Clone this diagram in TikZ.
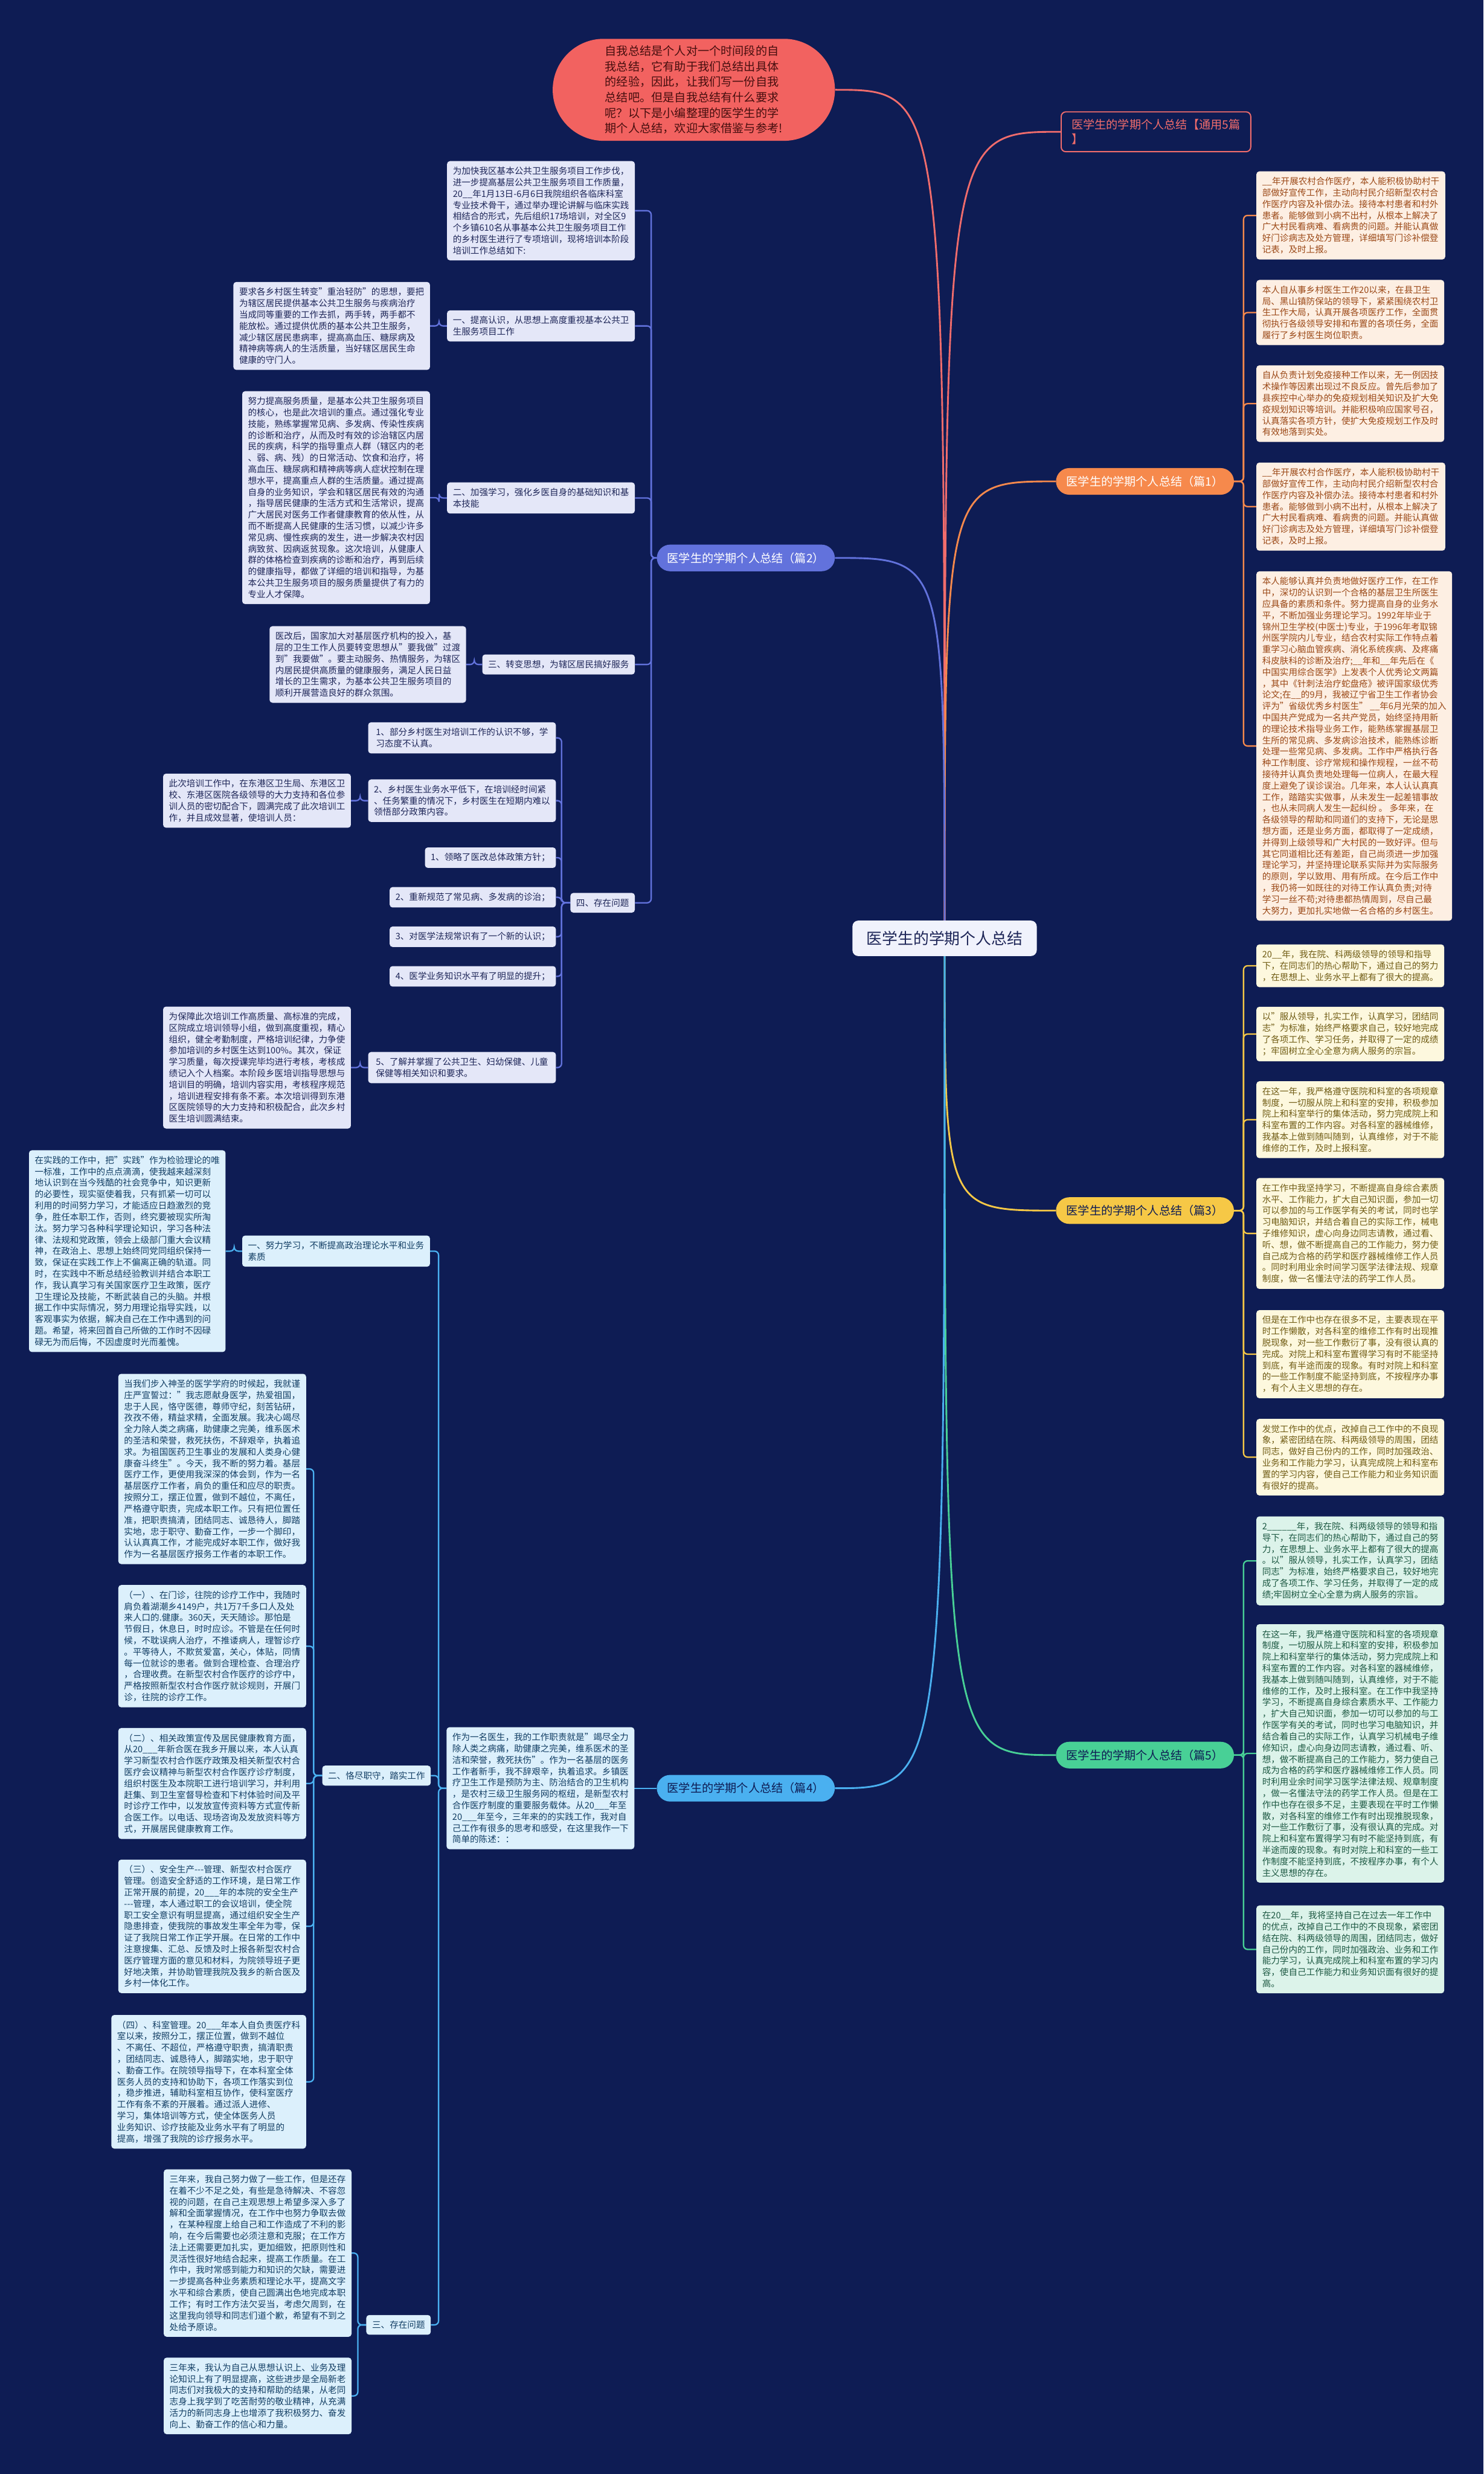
\documentclass[tikz,border=0pt]{standalone}
\usepackage{fontspec}
\setmainfont{Noto Sans CJK SC}
\usetikzlibrary{positioning}
\definecolor{bgc}{RGB}{14,28,84}
\definecolor{bubc}{RGB}{242,98,96}
\definecolor{bubt}{RGB}{70,14,14}
\definecolor{redl}{RGB}{240,108,108}
\definecolor{org}{RGB}{246,137,76}
\definecolor{p1bg}{RGB}{253,239,227}
\definecolor{p1tx}{RGB}{155,72,22}
\definecolor{yel}{RGB}{246,200,70}
\definecolor{p3bg}{RGB}{253,248,222}
\definecolor{p3tx}{RGB}{112,92,20}
\definecolor{grn}{RGB}{72,208,150}
\definecolor{p5bg}{RGB}{220,243,234}
\definecolor{p5tx}{RGB}{28,88,66}
\definecolor{blu}{RGB}{98,114,220}
\definecolor{p2bg}{RGB}{228,231,248}
\definecolor{p2tx}{RGB}{30,38,88}
\definecolor{sky}{RGB}{74,176,240}
\definecolor{p4bg}{RGB}{220,240,252}
\definecolor{p4tx}{RGB}{18,62,100}
\definecolor{rootbg}{RGB}{240,242,252}
\pgfdeclarelayer{bg}
\pgfsetlayers{bg,main}
\tikzset{
  box/.style={rounded corners=5pt, inner xsep=10pt, inner ysep=10pt, align=left, font=\fontsize{15.2}{19.6}\selectfont},
  wbox/.style={box, minimum width=324pt},
  bA/.style={wbox, fill=p1bg, text=p1tx, anchor=north west},
  bC/.style={wbox, fill=p3bg, text=p3tx, anchor=north west},
  bE/.style={wbox, fill=p5bg, text=p5tx, anchor=north west},
  bB/.style={wbox, fill=p2bg, text=p2tx, anchor=east},
  sB/.style={box, fill=p2bg, text=p2tx, anchor=east},
  bD/.style={wbox, fill=p4bg, text=p4tx, anchor=east},
  sD/.style={box, fill=p4bg, text=p4tx, anchor=east},
  lab/.style={rounded corners=23pt, inner xsep=18pt, inner ysep=12pt, minimum height=46pt, align=center, font=\fontsize{20}{26}\selectfont},
  rootn/.style={fill=rootbg, text=p2tx, rounded corners=10pt, inner xsep=24pt, inner ysep=18pt, font=\fontsize{27}{32}\selectfont},
  bub/.style={fill=bubc, text=bubt, rounded corners=88pt, minimum width=487pt, minimum height=176pt, align=left, font=\fontsize{20}{26.7}\selectfont},
  cn/.style={line width=2.4pt, rounded corners=7pt},
  rc/.style={line width=3pt},
}
\begin{document}
\begin{tikzpicture}[x=2.7234pt,y=-2.7234pt]
\useasboundingbox (0,0) rectangle (940,1567.5);
\begin{pgfonlayer}{bg}
\fill[bgc] (0,0) rectangle (940,1567.5);
\end{pgfonlayer}

% root and intro bubble
\node[rootn] (root) at (598.5,594.5) {医学生的学期个人总结};
\node[bub] (bubble) at (439.6,56.9) {自我总结是个人对一个时间段的自\\我总结，它有助于我们总结出具体\\的经验，因此，让我们写一份自我\\总结吧。但是自我总结有什么要求\\呢？以下是小编整理的医学生的学\\期个人总结，欢迎大家借鉴与参考!};

% main labels
\node[lab, draw=redl, line width=2pt, fill=bgc, text=redl, anchor=west, align=left, rounded corners=8pt] (p0) at (672,83.5) {医学生的学期个人总结【通用5篇\\】};
\node[lab, fill=org, text=white, anchor=west] (p1) at (669,305) {医学生的学期个人总结（篇1）};
\node[lab, fill=yel, text=bgc, anchor=west] (p3) at (669,767) {医学生的学期个人总结（篇3）};
\node[lab, fill=grn, text=bgc, anchor=west] (p5) at (669,1112) {医学生的学期个人总结（篇5）};
\node[lab, fill=blu, text=white, anchor=east] (p2) at (529,353.5) {医学生的学期个人总结（篇2）};
\node[lab, fill=sky, text=bgc, anchor=east] (p4) at (529,1133) {医学生的学期个人总结（篇4）};

% ---------- 篇1 ----------
\node[bA] (a1) at (796,108.5) {\_\_年开展农村合作医疗，本人能积极协助村干\\部做好宣传工作，主动向村民介绍新型农村合\\作医疗内容及补偿办法。接待本村患者和村外\\患者。能够做到小病不出村，从根本上解决了\\广大村民看病难、看病贵的问题。并能认真做\\好门诊病志及处方管理，详细填写门诊补偿登\\记表，及时上报。};
\node[bA] (a2) at (796,177.3) {本人自从事乡村医生工作20以来，在县卫生\\局、黑山镇防保站的领导下，紧紧围绕农村卫\\生工作大局，认真开展各项医疗工作，全面贯\\彻执行各级领导安排和布置的各项任务，全面\\履行了乡村医生岗位职责。};
\node[bA] (a3) at (796,231.4) {自从负责计划免疫接种工作以来，无一例因技\\术操作等因素出现过不良反应。曾先后参加了\\县疾控中心举办的免疫规划相关知识及扩大免\\疫规划知识等培训。并能积极响应国家号召，\\认真落实各项方针，使扩大免疫规划工作及时\\有效地落到实处。};
\node[bA] (a4) at (796,293) {\_\_年开展农村合作医疗，本人能积极协助村干\\部做好宣传工作，主动向村民介绍新型农村合\\作医疗内容及补偿办法。接待本村患者和村外\\患者。能够做到小病不出村，从根本上解决了\\广大村民看病难、看病贵的问题。并能认真做\\好门诊病志及处方管理，详细填写门诊补偿登\\记表，及时上报。};
\node[bA] (a5) at (796,361.9) {本人能够认真并负责地做好医疗工作，在工作\\中，深切的认识到一个合格的基层卫生所医生\\应具备的素质和条件。努力提高自身的业务水\\平，不断加强业务理论学习。1992年毕业于\\锦州卫生学校(中医士)专业，于1996年考取锦\\州医学院内儿专业，结合农村实际工作特点着\\重学习心脑血管疾病、消化系统疾病、及疼痛\\科皮肤科的诊断及治疗;\_\_年和\_\_年先后在《\\中国实用综合医学》上发表个人优秀论文两篇\\，其中《针刺法治疗蛇盘疮》被评国家级优秀\\论文;在\_\_的9月，我被辽宁省卫生工作者协会\\评为"省级优秀乡村医生" \_\_年6月光荣的加入\\中国共产党成为一名共产党员，始终坚持用新\\的理论技术指导业务工作，能熟练掌握基层卫\\生所的常见病、多发病诊治技术，能熟练诊断\\处理一些常见病、多发病。工作中严格执行各\\种工作制度、诊疗常规和操作规程，一丝不苟\\接待并认真负责地处理每一位病人，在最大程\\度上避免了误诊误治。几年来，本人认认真真\\工作，踏踏实实做事，从未发生一起差错事故\\，也从未同病人发生一起纠纷 。 多年来，在\\各级领导的帮助和同道们的支持下，无论是思\\想方面，还是业务方面，都取得了一定成绩，\\并得到上级领导和广大村民的一致好评。但与\\其它同道相比还有差距，自己尚须进一步加强\\理论学习，并坚持理论联系实际并为实际服务\\的原则，学以致用、用有所成。在今后工作中\\，我仍将一如既往的对待工作认真负责;对待\\学习一丝不苟;对待患都热情周到，尽自己最\\大努力，更加扎实地做一名合格的乡村医生。};

% ---------- 篇3 ----------
\node[bC] (c1) at (796,598.3) {20\_\_年，我在院、科两级领导的领导和指导\\下，在同志们的热心帮助下，通过自己的努力\\，在思想上、业务水平上都有了很大的提高。};
\node[bC] (c2) at (796,637.8) {以"服从领导，扎实工作，认真学习，团结同\\志"为标准，始终严格要求自己，较好地完成\\了各项工作、学习任务，并取得了一定的成绩\\；牢固树立全心全意为病人服务的宗旨。};
\node[bC] (c3) at (796,685) {在这一年，我严格遵守医院和科室的各项规章\\制度，一切服从院上和科室的安排，积极参加\\院上和科室举行的集体活动，努力完成院上和\\科室布置的工作内容。对各科室的器械维修，\\我基本上做到随叫随到，认真维修，对于不能\\维修的工作，及时上报科室。};
\node[bC] (c4) at (796,746.3) {在工作中我坚持学习，不断提高自身综合素质\\水平、工作能力，扩大自己知识面，参加一切\\可以参加的与工作医学有关的考试，同时也学\\习电脑知识，并结合着自己的实际工作，械电\\子维修知识，虚心向身边同志请教，通过看、\\听、想，做不断提高自己的工作能力，努力使\\自己成为合格的药学和医疗器械维修工作人员\\。同时利用业余时间学习医学法律法规、规章\\制度，做一名懂法守法的药学工作人员。};
\node[bC] (c5) at (796,830) {但是在工作中也存在很多不足，主要表现在平\\时工作懒散，对各科室的维修工作有时出现推\\脱现象，对一些工作敷衍了事，没有很认真的\\完成。对院上和科室布置得学习有时不能坚持\\到底，有半途而废的现象。有时对院上和科室\\的一些工作制度不能坚持到底，不按程序办事\\，有个人主义思想的存在。};
\node[bC] (c6) at (796,898.9) {发觉工作中的优点，改掉自己工作中的不良现\\象，紧密团结在院、科两级领导的周围，团结\\同志，做好自己份内的工作，同时加强政治、\\业务和工作能力学习，认真完成院上和科室布\\置的学习内容，使自己工作能力和业务知识面\\有很好的提高。};

% ---------- 篇5 ----------
\node[bE] (e1) at (796,960.7) {2\_\_\_\_\_\_年，我在院、科两级领导的领导和指\\导下，在同志们的热心帮助下，通过自己的努\\力，在思想上、业务水平上都有了很大的提高\\。以"服从领导，扎实工作，认真学习，团结\\同志"为标准，始终严格要求自己，较好地完\\成了各项工作、学习任务，并取得了一定的成\\绩;牢固树立全心全意为病人服务的宗旨。};
\node[bE] (e2) at (796,1029) {在这一年，我严格遵守医院和科室的各项规章\\制度，一切服从院上和科室的安排，积极参加\\院上和科室举行的集体活动，努力完成院上和\\科室布置的工作内容。对各科室的器械维修，\\我基本上做到随叫随到，认真维修，对于不能\\维修的工作，及时上报科室。在工作中我坚持\\学习，不断提高自身综合素质水平、工作能力\\，扩大自己知识面，参加一切可以参加的与工\\作医学有关的考试，同时也学习电脑知识，并\\结合着自己的实际工作，认真学习机械电子维\\修知识，虚心向身边同志请教，通过看、听、\\想，做不断提高自己的工作能力，努力使自己\\成为合格的药学和医疗器械维修工作人员。同\\时利用业余时间学习医学法律法规、规章制度\\，做一名懂法守法的药学工作人员。但是在工\\作中也存在很多不足，主要表现在平时工作懒\\散，对各科室的维修工作有时出现推脱现象，\\对一些工作敷衍了事，没有很认真的完成。对\\院上和科室布置得学习有时不能坚持到底，有\\半途而废的现象。有时对院上和科室的一些工\\作制度不能坚持到底，不按程序办事，有个人\\主义思想的存在。};
\node[bE] (e3) at (796,1207.2) {在20\_\_年，我将坚持自己在过去一年工作中\\的优点，改掉自己工作中的不良现象，紧密团\\结在院、科两级领导的周围，团结同志，做好\\自己份内的工作，同时加强政治、业务和工作\\能力学习，认真完成院上和科室布置的学习内\\容，使自己工作能力和业务知识面有很好的提\\高。};

% ---------- 篇2 ----------
\node[wbox, fill=p2bg, text=p2tx, anchor=north east] (b0) at (402.3,102) {为加快我区基本公共卫生服务项目工作步伐，\\进一步提高基层公共卫生服务项目工作质量，\\20\_\_年1月13日-6月6日我院组织各临床科室\\专业技术骨干，通过举办理论讲解与临床实践\\相结合的形式，先后组织17场培训，对全区9\\个乡镇610名从事基本公共卫生服务项目工作\\的乡村医生进行了专项培训，现将培训本阶段\\培训工作总结如下:};
\node[sB] (s1) at (402.3,206.5) {一、提高认识，从思想上高度重视基本公共卫\\生服务项目工作};
\node[bB] (s1b) at (272.5,206.5) {要求各乡村医生转变"重治轻防"的思想，要把\\为辖区居民提供基本公共卫生服务与疾病治疗\\当成同等重要的工作去抓，两手转，两手都不\\能放松。通过提供优质的基本公共卫生服务，\\减少辖区居民患病率，提高高血压、糖尿病及\\精神病等病人的生活质量，当好辖区居民生命\\健康的守门人。};
\node[sB] (s2) at (402.3,315.5) {二、加强学习，强化乡医自身的基础知识和基\\本技能};
\node[bB] (s2b) at (272.5,315.3) {努力提高服务质量，是基本公共卫生服务项目\\的核心，也是此次培训的重点。通过强化专业\\技能，熟练掌握常见病、多发病、传染性疾病\\的诊断和治疗，从而及时有效的诊治辖区内居\\民的疾病，科学的指导重点人群（辖区内的老\\、弱、病、残）的日常活动、饮食和治疗，将\\高血压、糖尿病和精神病等病人症状控制在理\\想水平，提高重点人群的生活质量。通过提高\\自身的业务知识，学会和辖区居民有效的沟通\\，指导居民健康的生活方式和生活常识，提高\\广大居民对医务工作者健康教育的依从性，从\\而不断提高人民健康的生活习惯，以减少许多\\常见病、慢性疾病的发生，进一步解决农村因\\病致贫、因病返贫现象。这次培训，从健康人\\群的体格检查到疾病的诊断和治疗，再到后续\\的健康指导，都做了详细的培训和指导，为基\\本公共卫生服务项目的服务质量提供了有力的\\专业人才保障。};
\node[sB] (s3) at (402.3,421) {三、转变思想，为辖区居民搞好服务};
\node[bB] (s3b) at (295.4,421) {医改后，国家加大对基层医疗机构的投入，基\\层的卫生工作人员要转变思想从"要我做"过渡\\到"我要做"。要主动服务、热情服务，为辖区\\内居民提供高质量的健康服务，满足人民日益\\增长的卫生需求，为基本公共卫生服务项目的\\顺利开展营造良好的群众氛围。};
\node[sB] (s4) at (402.3,572) {四、存在问题};
\node[sB, minimum width=324pt] (q1) at (352.3,467.5) {1、部分乡村医生对培训工作的认识不够，学\\习态度不认真。};
\node[sB, minimum width=324pt] (q2) at (352.3,507.3) {2、乡村医生业务水平低下，在培训经时间紧\\、任务繁重的情况下，乡村医生在短期内难以\\领悟部分政策内容。};
\node[bB] (q2b) at (222.4,507.3) {此次培训工作中，在东港区卫生局、东港区卫\\校、东港区医院各级领导的大力支持和各位参\\训人员的密切配合下，圆满完成了此次培训工\\作，并且成效显著，使培训人员：};
\node[sB] (q3) at (352.3,543.4) {1、领略了医改总体政策方针；};
\node[sB] (q4) at (352.3,568.5) {2、重新规范了常见病、多发病的诊治；};
\node[sB] (q5) at (352.3,593.5) {3、对医学法规常识有了一个新的认识；};
\node[sB] (q6) at (352.3,618.6) {4、医学业务知识水平有了明显的提升；};
\node[sB, minimum width=324pt] (q7) at (352.3,676.4) {5、了解并掌握了公共卫生、妇幼保健、儿童\\保健等相关知识和要求。};
\node[bB] (q7b) at (222.4,676.4) {为保障此次培训工作高质量、高标准的完成，\\区院成立培训领导小组，做到高度重视，精心\\组织，健全考勤制度，严格培训纪律，力争使\\参加培训的乡村医生达到100\%。其次，保证\\学习质量，每次授课完毕均进行考核，考核成\\绩记入个人档案。本阶段乡医培训指导思想与\\培训目的明确，培训内容实用，考核程序规范\\，培训进程安排有条不紊。本次培训得到东港\\区医院领导的大力支持和积极配合，此次乡村\\医生培训圆满结束。};

% ---------- 篇4 ----------
\node[bD] (z0) at (402,1133) {作为一名医生，我的工作职责就是"竭尽全力\\除人类之病痛，助健康之完美，维系医术的圣\\洁和荣誉，救死扶伤"。作为一名基层的医务\\工作者新手，我不辞艰辛，执着追求。乡镇医\\疗卫生工作是预防为主、防治结合的卫生机构\\，是农村三级卫生服务网的枢纽，是新型农村\\合作医疗制度的重要服务载体。从20\_\_\_年至\\20\_\_\_年至今，三年来的的实践工作，我对自\\己工作有很多的思考和感受，在这里我作一下\\简单的陈述：：};
\node[sD] (t1) at (272.5,792.7) {一、努力学习，不断提高政治理论水平和业务\\素质};
\node[bD] (t1b) at (143,792.7) {在实践的工作中，把"实践"作为检验理论的唯\\一标准，工作中的点点滴滴，使我越来越深刻\\地认识到在当今残酷的社会竞争中，知识更新\\的必要性，现实驱使着我，只有抓紧一切可以\\利用的时间努力学习，才能适应日趋激烈的竞\\争，胜任本职工作，否则，终究要被现实所淘\\汰。努力学习各种科学理论知识，学习各种法\\律、法规和党政策，领会上级部门重大会议精\\神，在政治上、思想上始终同党同组织保持一\\致，保证在实践工作上不偏离正确的轨道。同\\时，在实践中不断总结经验教训并结合本职工\\作，我认真学习有关国家医疗卫生政策，医疗\\卫生理论及技能，不断武装自己的头脑。并根\\据工作中实际情况，努力用理论指导实践，以\\客观事实为依据，解决自己在工作中遇到的问\\题。希望，将来回首自己所做的工作时不因碌\\碌无为而后悔，不因虚度时光而羞愧。};
\node[sD] (t2) at (273,1125) {二、恪尽职守，踏实工作};
\node[bD] (d0) at (194,930.7) {当我们步入神圣的医学学府的时候起，我就谨\\庄严宣誓过："我志愿献身医学，热爱祖国，\\忠于人民，恪守医德，尊师守纪，刻苦钻研，\\孜孜不倦，精益求精，全面发展。我决心竭尽\\全力除人类之病痛，助健康之完美，维系医术\\的圣洁和荣誉，救死扶伤，不辞艰辛，执着追\\求。为祖国医药卫生事业的发展和人类身心健\\康奋斗终生"。今天，我不断的努力着。基层\\医疗工作，更使用我深深的体会到，作为一名\\基层医疗工作者，肩负的重任和应尽的职责。\\按照分工，摆正位置，做到不越位，不离任，\\严格遵守职责，完成本职工作。只有把位置任\\准，把职责搞清，团结同志、诚恳待人，脚踏\\实地，忠于职守、勤奋工作，一步一个脚印，\\认认真真工作，才能完成好本职工作，做好我\\作为一名基层医疗报务工作者的本职工作。};
\node[bD] (d1) at (194,1043) {（一）、在门诊，往院的诊疗工作中，我随时\\肩负着湖潮乡4149户，共1万7千多口人及处\\来人口的.健康。360天，天天随诊。那怕是\\节假日，休息日，时时应诊。不管是在任何时\\候，不耽误病人治疗，不推诿病人，理智诊疗\\。平等待人，不欺贫爱富，关心，体贴，同情\\每一位就诊的患者。做到合理检查、合理治疗\\，合理收费。在新型农村合作医疗的诊疗中，\\严格按照新型农村合作医疗就诊规则，开展门\\诊，往院的诊疗工作。};
\node[bD] (d2) at (194,1130) {（二）、相关政策宣传及居民健康教育方面，\\从20\_\_\_年新合医在我乡开展以来，本人认真\\学习新型农村合作医疗政策及相关新型农村合\\医疗会议精神与新型农村合作医疗诊疗制度，\\组织村医生及本院职工进行培训学习，并利用\\赶集、到卫生室督导检查和下村体验时间及平\\时诊疗工作中，以发放宣传资料等方式宣传新\\合医工作。以电话、现场咨询及发放资料等方\\式，开展居民健康教育工作。};
\node[bD] (d3) at (194,1220.5) {（三）、安全生产-{}-{}-管理、新型农村合医疗\\管理。创造安全舒适的工作环境，是日常工作\\正常开展的前提，20\_\_\_年的本院的安全生产\\-{}-{}-管理，本人通过职工的会议培训，使全院\\职工安全意识有明显提高，通过组织安全生产\\隐患排查，使我院的事故发生率全年为零，保\\证了我院日常工作正学开展。在日常的工作中\\注意搜集、汇总、反馈及时上报各新型农村合\\医疗管理方面的意见和材料，为院领导班子更\\好地决策，并协助管理我院及我乡的新合医及\\乡村一体化工作。};
\node[bD] (d4) at (194,1319) {（四）、科室管理。20\_\_\_年本人自负责医疗科\\室以来，按照分工，摆正位置，做到不越位\\、不离任、不超位，严格遵守职责，搞清职责\\，团结同志、诚恳待人，脚踏实地，忠于职守\\、勤奋工作。在院领导指导下，在本科室全体\\医务人员的支持和协助下，各项工作落实到位\\，稳步推进，辅助科室相互协作，使科室医疗\\工作有条不紊的开展着。通过派人进修、\\学习，集体培训等方式，使全体医务人员\\业务知识、诊疗技能及业务水平有了明显的\\提高，增强了我院的诊疗报务水平。};
\node[sD] (t3) at (273,1473) {三、存在问题};
\node[bD] (f1) at (222.8,1427.5) {三年来，我自己努力做了一些工作，但是还存\\在着不少不足之处，有些是急待解决、不容忽\\视的问题，在自己主观思想上希望多深入多了\\解和全面掌握情况，在工作中也努力争取去做\\，在某种程度上给自己和工作造成了不利的影\\响，在今后需要也必须注意和克服；在工作方\\法上还需要更加扎实，更加细致，把原则性和\\灵活性很好地结合起来，提高工作质量。在工\\作中，我时常感到能力和知识的欠缺，需要进\\一步提高各种业务素质和理论水平，提高文字\\水平和综合素质，使自己圆满出色地完成本职\\工作；有时工作方法欠妥当，考虑欠周到，在\\这里我向领导和同志们道个歉，希望有不到之\\处给予原谅。};
\node[bD] (f2) at (222.8,1518) {三年来，我认为自己从思想认识上、业务及理\\论知识上有了明显提高，这些进步是全局新老\\同志们对我极大的支持和帮助的结果，从老同\\志身上我学到了吃苦耐劳的敬业精神，从充满\\活力的新同志身上也增添了我积极努力、奋发\\向上、勤奋工作的信心和力量。};

% ---------- connectors ----------
\begin{pgfonlayer}{bg}
\draw[rc, redl] (root.center) .. controls (root.center |- bubble.east) .. (bubble.east);
\draw[rc, redl] (root.center) .. controls (root.center |- p0.west) .. (p0.west);
\draw[rc, org] (root.center) .. controls (root.center |- p1.west) .. (p1.west);
\draw[rc, yel] (root.center) .. controls (root.center |- p3.west) .. (p3.west);
\draw[rc, grn] (root.center) .. controls (root.center |- p5.west) .. (p5.west);
\draw[rc, blu] (root.center) .. controls (root.center |- p2.east) .. (p2.east);
\draw[rc, sky] (root.center) .. controls (root.center |- p4.east) .. (p4.east);

\foreach \n in {a1,a2,a3,a4,a5} \draw[cn, org] (p1.east) -- ++(6,0) |- (\n.west);
\foreach \n in {c1,c2,c3,c4,c5,c6} \draw[cn, yel] (p3.east) -- ++(6,0) |- (\n.west);
\foreach \n in {e1,e2,e3} \draw[cn, grn] (p5.east) -- ++(6,0) |- (\n.west);

\foreach \n in {b0,s1,s2,s3,s4} \draw[cn, blu] (p2.west) -- ++(-3.5,0) |- (\n.east);
\draw[cn, blu] (s1.west) -- ++(-5,0) |- (s1b.east);
\draw[cn, blu] (s2.west) -- ++(-5,0) |- (s2b.east);
\draw[cn, blu] (s3.west) -- ++(-5,0) |- (s3b.east);
\foreach \n in {q1,q2,q3,q4,q5,q6,q7} \draw[cn, blu] (s4.west) -- ++(-5.5,0) |- (\n.east);
\draw[cn, blu] (q2.west) -- ++(-5,0) |- (q2b.east);
\draw[cn, blu] (q7.west) -- ++(-5,0) |- (q7b.east);

\draw[cn, sky] (p4.west) -- (z0.east);
\foreach \n in {t1,t2,t3} \draw[cn, sky] (z0.west) -- ++(-5,0) |- (\n.east);
\draw[cn, sky] (t1.west) -- ++(-5,0) |- (t1b.east);
\foreach \n in {d0,d1,d2,d3,d4} \draw[cn, sky] (t2.west) -- ++(-5.4,0) |- (\n.east);
\foreach \n in {f1,f2} \draw[cn, sky] (t3.west) -- ++(-5.3,0) |- (\n.east);
\end{pgfonlayer}
\end{tikzpicture}
\end{document}
